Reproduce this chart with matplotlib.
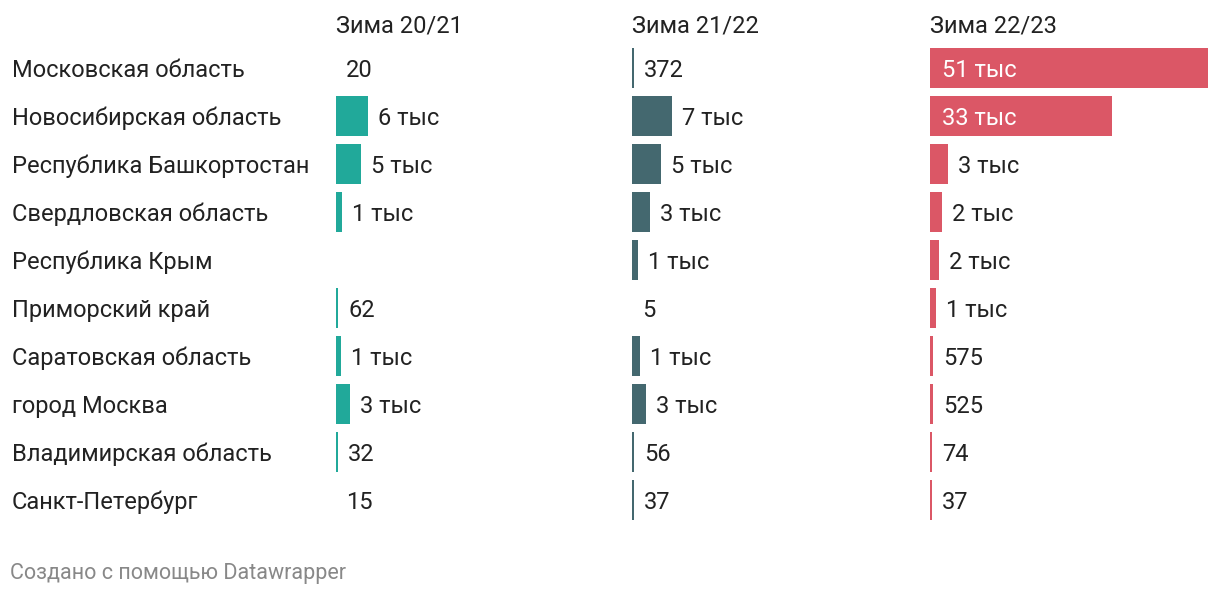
import matplotlib
matplotlib.use("Agg")
from matplotlib import pyplot as plt
from matplotlib import transforms
import numpy as np

plt.rcParams["font.family"] = ["Roboto", "DejaVu Sans"]

regions = ["Московская область",
           "Новосибирская область",
           "Республика Башкортостан",
           "Свердловская область",
           "Республика Крым",
           "Приморский край",
           "Саратовская область",
           "город Москва",
           "Владимирская область",
           "Санкт-Петербург"]

seasons = ["Зима 20/21", "Зима 21/22", "Зима 22/23"]

winter_20_21 = [20, 5900, 4600, 1100, np.nan, 62, 950, 2600, 32, 15]
winter_21_22 = [372, 7300, 5400, 3300, 1100, 5, 1400, 2600, 56, 37]
winter_22_23 = [51000, 33400, 3300, 2200, 1600, 1100, 575, 525, 74, 37]

colors = ["#21a99a", "#44686f", "#db5766"]
text_color = "#222222"
fs = 17

W, H = 1220, 596
fig = plt.figure(figsize=(W / 100, H / 100), dpi=100)

col_left = [336, 632, 930]
bar_span = 278        # px for the biggest value
top_px, bottom_px = 44, 524
max_val = np.nanmax(winter_22_23)
dy = -1.5             # small nudge down so text sits on the bar centre


def fmt(v):
    if v >= 1000 or v >= 900:
        return "%d тыс" % max(1, round(v / 1000))
    return "%d" % v


all_cols = [winter_20_21, winter_21_22, winter_22_23]
rows = np.arange(len(regions))

for i, vals in enumerate(all_cols):
    ax = fig.add_axes([col_left[i] / W, 1 - bottom_px / H,
                       bar_span / W, (bottom_px - top_px) / H])
    ax.set_xlim(0, max_val)
    ax.set_ylim(len(regions) - 0.5, -0.5)
    ax.axis("off")

    vals = np.array(vals, dtype=float)
    # tiny values still get a hairline, like the original
    min_w = max_val * 2 / bar_span
    shown = np.where((vals >= 30) & (vals * bar_span / max_val < 2), min_w, vals)
    shown = np.nan_to_num(shown)
    ax.barh(rows, shown, height=0.835, color=colors[i], linewidth=0)

    for r, v in enumerate(vals):
        if np.isnan(v):
            continue
        if v > 20000:
            ax.annotate(fmt(v), xy=(0, r), xytext=(8.6, dy),
                        textcoords="offset points", va="center", ha="left",
                        fontsize=fs, color="white")
        else:
            ax.annotate(fmt(v), xy=(shown[r], r), xytext=(7.2, dy),
                        textcoords="offset points", va="center", ha="left",
                        fontsize=fs, color=text_color)

    ax.annotate(seasons[i], xy=(0, 1), xycoords="axes fraction",
                xytext=(0, 14.4 + dy), textcoords="offset points",
                va="center", ha="left", fontsize=fs, color=text_color)

    if i == 0:
        trans = transforms.blended_transform_factory(fig.transFigure, ax.transData)
        for r, name in enumerate(regions):
            ax.annotate(name, xy=(12 / W, r), xycoords=trans,
                        xytext=(0, dy), textcoords="offset points",
                        va="center", ha="left", fontsize=fs, color=text_color)

fig.text(10 / W, 1 - 574 / H, "Создано с помощью Datawrapper",
         va="center", ha="left", fontsize=15.5, color="#888888")

fig.savefig("out.png", dpi=100)
